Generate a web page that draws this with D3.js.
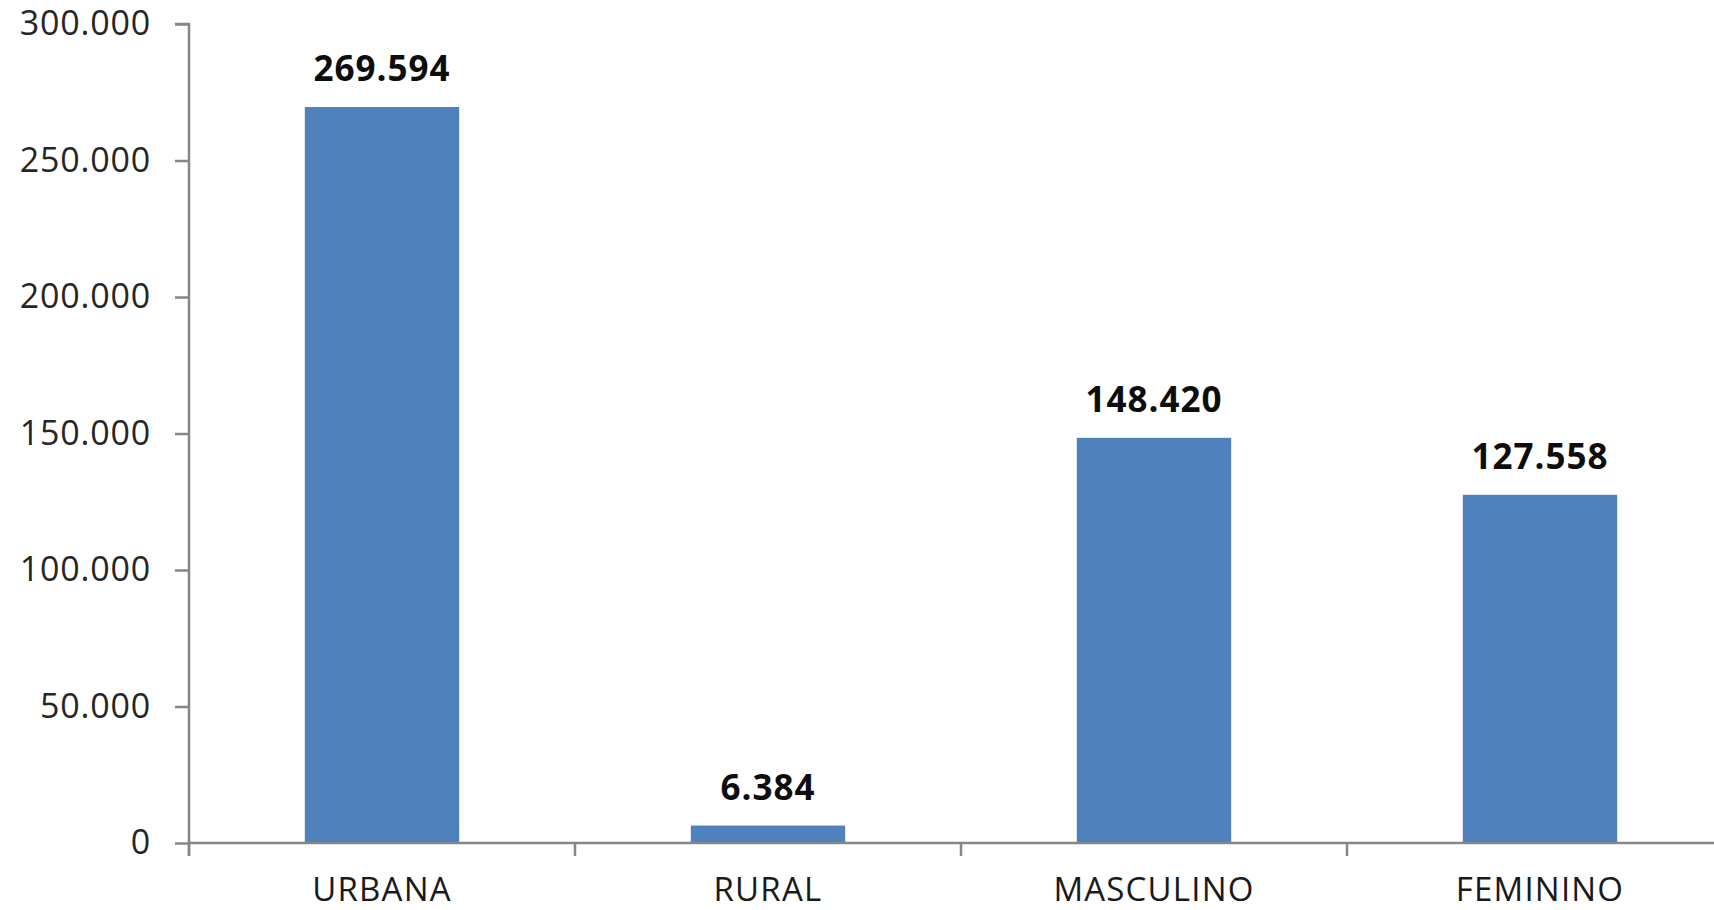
<!DOCTYPE html>
<html><head><meta charset="utf-8">
<script src="https://cdn.jsdelivr.net/npm/d3@7"></script>
<style>html,body{margin:0;padding:0;background:#fff;}svg{display:block;}</style>
</head><body>
<svg id="chart" width="1714" height="910"></svg>
<script>
const categories = ["URBANA", "RURAL", "MASCULINO", "FEMININO"];
const values = [269594, 6384, 148420, 127558];
const yTicks = [0, 50000, 100000, 150000, 200000, 250000, 300000];

(function () {
const svg = d3.select("#chart");
const mLeft = 189, mTop = 24, mBottom = 843, bandW = 386;
const font = "'Open Sans', sans-serif";
const fmt = v => v === 0 ? "0" : d3.format(",")(v).replace(/,/g, ".");

const x = d3.scaleBand().domain(categories).range([mLeft, mLeft + bandW * categories.length]).paddingInner(0.6).paddingOuter(0.3);
const y = d3.scaleLinear().domain([0, 300000]).range([mBottom, mTop]);

// bars
svg.selectAll("rect.bar").data(values).join("rect")
  .attr("class", "bar")
  .attr("x", (d, i) => x(categories[i]))
  .attr("width", x.bandwidth())
  .attr("y", d => y(d))
  .attr("height", d => mBottom - y(d))
  .attr("fill", "#4F81BD");

// y axis
const yAxis = d3.axisLeft(y).tickValues(yTicks).tickSize(14).tickPadding(24).tickFormat(fmt);
const gy = svg.append("g").attr("transform", `translate(${mLeft},0)`).call(yAxis);
gy.select(".domain").attr("stroke", "#868686").attr("stroke-width", 2.5).attr("d", `M-14,${mTop}H0V${mBottom + 13}`);
gy.selectAll(".tick line").attr("stroke", "#868686").attr("stroke-width", 2.5);
gy.selectAll(".tick text").attr("font-family", font).attr("font-size", 34).attr("letter-spacing", 0.8).attr("fill", "#262626");

// x axis
const gx = svg.append("g").attr("transform", `translate(0,${mBottom})`);
gx.append("line").attr("x1", mLeft).attr("x2", 1714).attr("y1", 0).attr("y2", 0)
  .attr("stroke", "#868686").attr("stroke-width", 2.5);
const boundaries = categories.map((c, i) => mLeft + bandW * (i + 1)).concat([mLeft]);
gx.selectAll("line.tk").data(boundaries).join("line").attr("class", "tk")
  .attr("x1", d => d).attr("x2", d => d).attr("y1", 0).attr("y2", 13)
  .attr("stroke", "#868686").attr("stroke-width", 2.5);
gx.selectAll("text").data(categories).join("text")
  .attr("x", d => x(d) + x.bandwidth() / 2)
  .attr("y", 58)
  .attr("text-anchor", "middle")
  .attr("font-family", font).attr("font-size", 33).attr("letter-spacing", 1.2).attr("fill", "#1a1a1a")
  .text(d => d);

// data labels
svg.selectAll("text.lbl").data(values).join("text").attr("class", "lbl")
  .attr("x", (d, i) => x(categories[i]) + x.bandwidth() / 2)
  .attr("y", d => y(d) - 26)
  .attr("text-anchor", "middle")
  .attr("font-family", font).attr("font-size", 35).attr("letter-spacing", 1).attr("font-weight", "bold").attr("fill", "#0d0d0d")
  .text(d => fmt(d));
})();
</script>
</body></html>
